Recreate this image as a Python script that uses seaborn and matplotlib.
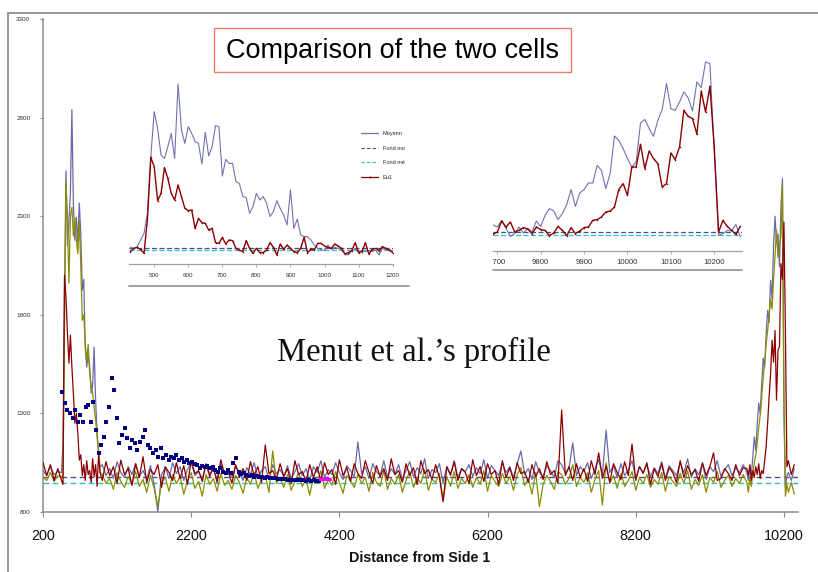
import numpy as np
import matplotlib
matplotlib.use("Agg")
import matplotlib.pyplot as plt
import seaborn as sns
from matplotlib.patches import Rectangle
from matplotlib.lines import Line2D
from matplotlib.transforms import Bbox, TransformedBbox

sns.set_style("white")
plt.rcParams["font.family"] = ["Liberation Sans", "DejaVu Sans"]

W, H = 818, 572

# ---------------- main profile along the cell ----------------
distance = np.concatenate([
    np.arange(200, 450, 50),
    np.arange(450, 990, 20),
    np.arange(1000, 9700, 50),
    np.arange(9700, 10250, 20),
    np.arange(10260, 10350, 40),
])

moyenne_main = [
    1010, 985, 1030, 990, 1005,
    1000, 1150, 1900, 2530, 2150, 2279, 2420, 2840, 2365, 2178,
    2295, 2170, 2367, 2210, 1925, 1980, 1636, 1535, 1595, 1540,
    1403, 1440, 1636, 1367, 1200, 1110, 1028,
    1040, 985, 1020, 970, 1055, 1000, 975, 1030, 990, 1045,
    980, 1010, 965, 1035, 940, 800, 990, 1025, 970, 1050,
    995, 1030, 960, 1015, 1050, 985, 1005, 970, 1040, 995,
    1020, 965, 1045, 990, 1010, 975, 1035, 1000, 960, 1025,
    990, 1050, 975, 1010, 1030, 965, 1040, 995, 1015, 980,
    1035, 970, 1005, 1045, 985, 1020, 960, 1030, 1000, 1060,
    975, 1015, 990, 1050, 1000, 965, 1035, 1010, 980, 1155,
    995, 1030, 970, 1045, 1005, 985, 1060, 975, 1020, 990,
    1040, 965, 1010, 1055, 980, 1025, 995, 1070, 970, 1015,
    1000, 1045, 950, 1030, 985, 1060, 975, 1020, 1005, 1040,
    980, 1025, 995, 1065, 970, 1035, 1010, 985, 1050, 1000,
    1030, 975, 1045, 1110, 990, 1020, 965, 1055, 1000, 980,
    1035, 1010, 975, 1060, 1040, 995, 1025, 1151, 985, 1030,
    1005, 1050, 970, 1020, 1065, 990, 1215, 1000, 1035, 975,
    1045, 985, 1015, 1060, 970, 1030, 1000, 1040, 980, 1025,
    995, 1055, 970, 1035, 1010, 985, 1050, 1000, 1070, 975,
    1020, 990, 1045, 965, 1030, 1005, 1060, 980, 1015, 1040,
    985, 1025, 1000, 1040,
    1000, 960, 1030, 990, 1080, 1181, 1113, 1250, 1352, 1300,
    1450, 1580, 1530, 1700, 1823, 1760, 1975, 1880, 2150, 2300,
    2162, 2210, 2043, 2350, 2492, 1300, 920, 985,
    1000, 960, 1020,
]

eu2_main = [
    975, 960, 1000, 955, 985,
    975, 990, 1700, 2472, 2280, 1960, 2300, 2345, 2200, 2290,
    2180, 2110, 2280, 2050, 1773, 1800, 1660, 1560, 1650, 1500,
    1440, 1400, 1330, 1266, 1180, 1098, 1000,
    990, 945, 970, 915, 1000, 955, 925, 980, 940, 1005,
    930, 965, 900, 985, 920, 830, 950, 975, 905, 990,
    945, 980, 890, 960, 1000, 920, 955, 880, 990, 940,
    970, 905, 995, 935, 960, 915, 985, 950, 895, 975,
    940, 1000, 920, 965, 985, 900, 1110, 945, 970, 925,
    990, 910, 955, 1000, 930, 965, 885, 980, 945, 1010,
    920, 965, 935, 1005, 950, 895, 985, 960, 925, 990,
    945, 975, 905, 1000, 950, 930, 1010, 915, 970, 940,
    990, 900, 960, 1005, 925, 975, 945, 1015, 910, 965,
    950, 995, 860, 980, 930, 1005, 920, 970, 945, 990,
    925, 975, 940, 1010, 905, 985, 955, 930, 995, 945,
    980, 910, 990, 1025, 935, 970, 890, 1000, 827, 940,
    985, 955, 915, 1005, 990, 940, 970, 1040, 930, 975,
    950, 1000, 900, 965, 1010, 835, 1050, 945, 985, 920,
    995, 930, 960, 1005, 910, 975, 945, 990, 925, 965,
    940, 1000, 905, 980, 955, 930, 995, 945, 1010, 915,
    965, 935, 990, 900, 975, 950, 1005, 925, 960, 985,
    930, 970, 945, 990,
    950, 900, 970, 930, 1000, 1050, 1090, 1150, 1230, 1290,
    1380, 1480, 1560, 1650, 1720, 1800, 1880, 1830, 1980, 2100,
    2230, 2090, 2150, 2200, 2457, 1400, 880, 940,
    900, 950, 890,
]

eu1_main = [
    1050, 985, 1040, 960, 1020,
    960, 940, 2000, 1890, 1707, 1555, 1697, 1535, 1403, 1250,
    1300, 1200, 1063, 1090, 985, 1040, 960, 1060, 990, 1010,
    950, 1070, 980, 1040, 930, 1090, 1000,
    960, 1055, 985, 1030, 945, 1063, 990, 1020, 935, 1045,
    975, 1080, 950, 1015, 990, 1040, 925, 1030, 1000, 960,
    1050, 970, 1035, 940, 1060, 995, 1010, 955, 1045, 980,
    1025, 950, 1065, 990, 1005, 945, 1040, 975, 1020, 960,
    1055, 985, 1030, 950, 1140, 995, 1010, 965, 1045, 980,
    1020, 945, 1060, 990, 1005, 955, 1040, 975, 1030, 960,
    1050, 990, 1015, 940, 1065, 985, 1025, 955, 1045, 995,
    970, 1060, 1000, 945, 1035, 980, 1020, 960, 1070, 990,
    1010, 950, 1045, 985, 1025, 940, 1060, 995, 1015, 965,
    1040, 975, 852, 1030, 990, 1055, 960, 1020, 1000, 945,
    1065, 985, 1030, 955, 1045, 990, 1010, 940, 1060, 975,
    1025, 960, 1050, 995, 1005, 950, 1040, 980, 1020, 965,
    1055, 990, 1010, 945, 1317, 985, 1030, 960, 1045, 975,
    1020, 955, 1060, 990, 1100, 970, 1035, 950, 1045, 1000,
    965, 1055, 985, 1144, 960, 1030, 995, 1050, 940, 1020,
    980, 1045, 960, 1025, 1000, 950, 1060, 975, 1035, 990,
    1015, 955, 1050, 985, 1030, 1100, 960, 970, 1020, 995,
    960, 1040, 985, 1025,
    1020, 985, 1040, 960, 1010, 975, 1030, 990, 1045, 970,
    1010, 995, 1060, 1130, 1248, 1384, 1500, 1671, 1560, 1720,
    1367, 1620, 1640, 2060, 1980, 2270, 1720, 1030,
    1060, 990, 1040,
]

fond_moyen_main = 977
fond_median_main = 947

# Menut et al. reference profile
menut_x = np.arange(460, 3960, 35)
menut_y = [
    1406, 1351, 1317, 1300, 1275, 1317, 1258, 1292, 1258, 1334,
    1342, 1258, 1359, 1216, 1098, 1140, 1182, 1258, 1334, 1477,
    1418, 1275, 1148, 1190, 1224, 1174, 1123, 1166, 1148, 1115,
    1157, 1182, 1216, 1140, 1123, 1098, 1115, 1081, 1123, 1073,
    1090, 1064, 1081, 1073, 1090, 1064, 1073, 1056, 1064, 1051,
    1056, 1044, 1039, 1022, 1034, 1027, 1034, 1022, 1030, 1013,
    1005, 1022, 1005, 996, 1013, 1000, 1047, 1073, 1005, 993,
    996, 988, 983, 988, 979, 983, 976, 975, 973, 976,
    972, 970, 972, 969, 967, 965, 968, 963, 960, 962,
    960, 962, 960, 961, 959, 960, 958, 960, 959, 957,
]
menut_end_x = [3940, 4080]
menut_end_y = [965, 965]

# ---------------- zoom on side 1 ----------------
side1_x = np.arange(430, 1210, 10)
side1_moyenne = [
    985, 978, 987, 1020, 1053, 1153, 1437, 1662, 1578, 1445,
    1428, 1487, 1553, 1428, 1800, 1570, 1503, 1587, 1553, 1512,
    1503, 1400, 1558, 1440, 1487, 1592, 1587, 1340, 1423, 1403,
    1403, 1312, 1303, 1237, 1233, 1153, 1187, 1253, 1220, 1237,
    1203, 1137, 1162, 1217, 1178, 1145, 1095, 1270, 1078, 1125,
    1045, 1037, 1037, 1020, 995, 978, 973, 967, 995, 973,
    983, 978, 970, 950, 945, 967, 973, 962, 967, 962,
    967, 962, 970, 945, 978, 970, 973, 962,
]
side1_eu1 = [
    962, 978, 983, 973, 953, 1120, 1433, 1387, 1217, 1253,
    1382, 1328, 1253, 1220, 1295, 1237, 1178, 1167, 1170, 1078,
    1128, 1107, 1103, 1070, 1078, 1007, 1003, 1033, 1000, 1020,
    1017, 978, 970, 962, 1017, 978, 953, 978, 957, 957,
    970, 1007, 983, 945, 1000, 973, 995, 978, 962, 957,
    978, 1033, 957, 973, 970, 1003, 1003, 990, 983, 978,
    1000, 990, 978, 950, 957, 967, 1007, 957, 962, 1007,
    950, 973, 978, 967, 987, 978, 970, 957,
]
side1_fond_moyen = 978
side1_fond_median = 970

# ---------------- zoom on side 2 ----------------
side2_x = np.arange(9690, 10270, 10)
side2_moyenne = [
    1030, 1020, 1053, 1012, 973, 987, 1020, 990, 1012, 995,
    1050, 1023, 1078, 1112, 1100, 1057, 1087, 1133, 1207, 1123,
    1190, 1207, 1240, 1240, 1328, 1303, 1212, 1287, 1475, 1453,
    1412, 1362, 1320, 1345, 1540, 1558, 1512, 1473, 1553, 1607,
    1737, 1612, 1603, 1645, 1695, 1665, 1600, 1745, 1717, 1845,
    1837, 1400, 978, 987, 1003, 1000, 1033, 970,
]
side2_eu1 = [
    985, 995, 1050, 1020, 1045, 995, 1003, 1017, 1010, 987,
    1020, 1007, 1003, 977, 990, 1023, 1003, 977, 1017, 987,
    1000, 1017, 1020, 1053, 1057, 1070, 1095, 1100, 1120, 1207,
    1237, 1178, 1320, 1320, 1433, 1312, 1400, 1362, 1337, 1220,
    1237, 1390, 1357, 1420, 1603, 1573, 1562, 1483, 1700, 1595,
    1723, 1420, 995, 1053, 1023, 1003, 983, 1023,
]
side2_fond_moyen = 997
side2_fond_median = 982

legend_labels = ["Moyenn", "Fond mo", "Fond mé", "Eu1"]

C_MOY = "#6a6aa8"
C_EU2 = "#8c8c00"
C_EU1 = "#8b0000"
C_DASH = "#4e4e8c"
C_CYAN = "#28c4c4"
C_AXIS = "#8c8c8c"


def fig_box(x0, y0, x1, y1):
    """Pixel box (origin top-left) -> figure fraction rect."""
    return [x0 / W, 1 - y1 / H, (x1 - x0) / W, (y1 - y0) / H]


fig = plt.figure(figsize=(W / 100, H / 100), dpi=100)
fig.patch.set_facecolor("white")

# outer chart-area frame
fig.add_artist(Rectangle((8 / W, -0.1), 1.2, 1 - 13 / H + 0.1,
                         transform=fig.transFigure, fill=False,
                         ec=C_AXIS, lw=1.3))

# ---------------- main axes ----------------
ax = fig.add_axes(fig_box(43, 19, 798, 512))
ax.set_facecolor("none")
ax.axhline(fond_moyen_main, color=C_DASH, lw=1.0, dashes=(4, 2.5), zorder=1)
ax.axhline(fond_median_main, color=C_CYAN, lw=1.0, dashes=(4, 2.5), zorder=1)
sns.lineplot(x=distance, y=moyenne_main, ax=ax, color=C_MOY, linewidth=0.9,
             estimator=None, zorder=2)
sns.lineplot(x=distance, y=eu2_main, ax=ax, color=C_EU2, linewidth=0.9,
             estimator=None, zorder=3)
sns.lineplot(x=distance, y=eu1_main, ax=ax, color=C_EU1, linewidth=0.9,
             estimator=None, zorder=4)
sns.scatterplot(x=menut_x, y=menut_y, ax=ax, marker="s", s=9,
                color="#000080", linewidth=0, zorder=5)
sns.lineplot(x=menut_end_x, y=menut_end_y, ax=ax, color="#ff00ff",
             linewidth=2.4, estimator=None, zorder=5)

ax.set_xlim(200, 10390)
ax.set_ylim(800, 3300)
ax.set_xticks(np.arange(200, 10201, 2000))
ax.set_yticks(np.arange(800, 3301, 500))
ax.set_xlabel("")
ax.set_ylabel("")
sns.despine(ax=ax)
for side in ("left", "bottom"):
    ax.spines[side].set_color(C_AXIS)
    ax.spines[side].set_linewidth(1.1)
ax.tick_params(axis="y", direction="out", length=2.5, width=0.8,
               color=C_AXIS, labelsize=4.6, labelcolor="#333333", pad=6.5, left=True)
ax.tick_params(axis="x", direction="out", length=3.5, width=0.8,
               color=C_AXIS, labelsize=10.4, labelcolor="#111111", pad=9, bottom=True)

fig.text(420 / W, 1 - 558 / H, "Distance from Side 1", ha="center",
         va="center", fontsize=10.3, fontweight="bold", color="#111111")

# title box
fig.add_artist(Rectangle((214 / W, 1 - 72 / H), (571 - 214) / W, 44 / H,
                         transform=fig.transFigure, fc="white",
                         ec="#f27a62", lw=1.0, zorder=6))
fig.text(392 / W, 1 - 51 / H, "Comparison of the two cells", ha="center",
         va="center", fontsize=19.5, color="black", zorder=7)

fig.text(414 / W, 1 - 361 / H, "Menut et al.’s profile", ha="center",
         va="baseline", fontsize=23.5, family=["Liberation Serif", "DejaVu Serif"],
         color="#111111")


def style_inset(a, xticks, labelsize, pad):
    a.set_facecolor("none")
    sns.despine(ax=a, left=True)
    a.spines["bottom"].set_color("#a0a0a0")
    a.spines["bottom"].set_linewidth(0.9)
    a.set_yticks([])
    a.set_xticks(xticks)
    a.set_xlabel("")
    a.set_ylabel("")
    a.tick_params(axis="x", direction="out", length=2.2, width=0.6,
                  color="#a0a0a0", labelsize=labelsize,
                  labelcolor="#333333", pad=pad, bottom=True)


# ---------------- inset: side 1 ----------------
ax1 = fig.add_axes(fig_box(129, 78, 393, 264))
ax1.axhline(side1_fond_moyen, color=C_DASH, lw=0.9, dashes=(4, 2))
ax1.axhline(side1_fond_median, color=C_CYAN, lw=0.9, dashes=(4, 2))
sns.lineplot(x=side1_x, y=side1_moyenne, ax=ax1, color="#7272b0",
             linewidth=0.8, estimator=None)
sns.lineplot(x=side1_x, y=side1_eu1, ax=ax1, color=C_EU1, linewidth=1.0,
             marker="o", markersize=1.1, markeredgewidth=0, estimator=None)
ax1.set_xlim(426, 1201)
ax1.set_ylim(900, 1830)
style_inset(ax1, np.arange(500, 1201, 100), 4.5, 4.0)

handles = [
    Line2D([], [], color="#7272b0", lw=0.9),
    Line2D([], [], color=C_DASH, lw=0.8, dashes=(3, 2)),
    Line2D([], [], color=C_CYAN, lw=0.8, dashes=(3, 2)),
    Line2D([], [], color=C_EU1, lw=0.9, marker="|", markersize=2),
]
ax1.legend(handles, legend_labels, loc="upper left",
           bbox_to_anchor=(361 / W, 1 - 131 / H), bbox_transform=fig.transFigure,
           frameon=False, fontsize=4, handlelength=3.1, handletextpad=0.8,
           labelspacing=1.75, borderpad=0, borderaxespad=0)

fig.add_artist(Line2D([129 / W, 409 / W], [1 - 286 / H] * 2,
                      transform=fig.transFigure, color="#9a9a9a", lw=1.3))

# ---------------- inset: side 2 ----------------
ax2 = fig.add_axes(fig_box(493, 55, 742, 251))
ax2.axhline(side2_fond_moyen, color=C_DASH, lw=0.9, dashes=(4, 2))
ax2.axhline(side2_fond_median, color=C_CYAN, lw=0.9, dashes=(4, 2))
sns.lineplot(x=side2_x, y=side2_moyenne, ax=ax2, color="#7272b0",
             linewidth=0.8, estimator=None)
sns.lineplot(x=side2_x, y=side2_eu1, ax=ax2, color=C_EU1, linewidth=1.0,
             marker="o", markersize=1.1, markeredgewidth=0, estimator=None)
ax2.set_xlim(9690, 10264)
ax2.set_ylim(900, 1880)
style_inset(ax2, np.arange(9700, 10201, 100), 5.6, 3.5)

fig.add_artist(Line2D([493 / W, 742 / W], [1 - 269.5 / H] * 2,
                      transform=fig.transFigure, color="#9a9a9a", lw=1.3))

fig.canvas.draw()
clip = TransformedBbox(Bbox.from_extents(493 / W, 0, 742 / W, 1), fig.transFigure)
for lab in ax2.get_xticklabels():
    lab.set_clip_box(clip)
    lab.set_clip_on(True)

fig.savefig("out.png", dpi=100, facecolor="white")
